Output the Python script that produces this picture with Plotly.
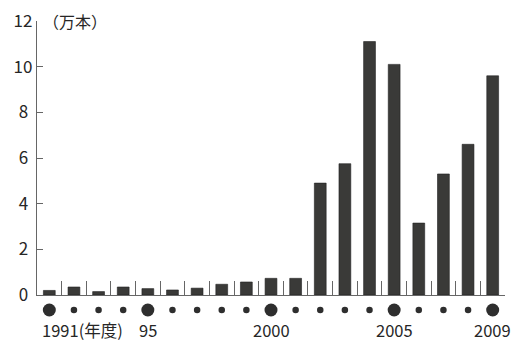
import plotly.graph_objects as go

years = [str(y) for y in range(1991, 2010)]
values = [0.2, 0.35, 0.15, 0.35, 0.28, 0.22, 0.3, 0.47, 0.57, 0.73, 0.73,
          4.9, 5.75, 11.1, 10.1, 3.15, 5.3, 6.6, 9.6]
y_ticks = [0, 2, 4, 6, 8, 10, 12]
y_tick_text = ["0", "2", "4", "6", "8", "10", "12"]
label_years = ["1991", "1995", "2000", "2005", "2009"]
label_texts = ["1991(年度)", "95", "2000", "2005", "2009"]
unit_label = "（万本）"

FONT = "Noto Sans CJK JP"
INK = "#262626"
AXIS = "#666666"

W, H = 519, 343
TOP, LEFT, RIGHT = 21, 37, 14
AXIS_PX = 295      # pixel row of the x-axis line
DOT_PX = 310       # pixel row of the dot markers
plot_h = H - TOP


def frac(px):
    return (H - px) / plot_h


# single-digit labels sit centred under two-digit ones in the original
tick_text_padded = [t if len(t) > 1 else t + "\u2005" for t in y_tick_text]

fig = go.Figure()
fig.add_trace(go.Bar(
    x=years, y=values, width=0.48,
    marker=dict(color="#3a3a38", line=dict(color="#222222", width=0.6)),
    showlegend=False, hoverinfo="x+y", yaxis="y",
))

# marker row below axis: big dots at labelled years
sizes = [13 if y in label_years else 6.5 for y in years]
fig.add_trace(go.Scatter(
    x=years, y=[0] * len(years), mode="markers",
    marker=dict(size=sizes, color="#2e2e2e", opacity=1, line=dict(width=0)),
    cliponaxis=False, showlegend=False, hoverinfo="skip", yaxis="y2",
))

annotations = []
for yr, txt in zip(label_years, label_texts):
    a = dict(x=years.index(yr), y=0, xref="x", yref="paper",
             text=txt, showarrow=False, yanchor="bottom", borderpad=0,
             font=dict(family=FONT, size=16.5, color=INK))
    if yr == "1991":
        a.update(xanchor="left", xshift=-8)
    else:
        a.update(xanchor="center")
    annotations.append(a)
annotations.append(dict(x=0, y=12, xref="paper", yref="y", text=unit_label,
                        showarrow=False, xanchor="left", xshift=4,
                        font=dict(family=FONT, size=16, color=INK)))

fig.update_layout(
    width=W, height=H,
    margin=dict(l=LEFT, r=RIGHT, t=TOP, b=0, autoexpand=False),
    paper_bgcolor="white", plot_bgcolor="white",
    font=dict(family=FONT, size=17, color=INK),
    annotations=annotations,
    xaxis=dict(
        type="category", tickson="boundaries", ticks="inside", ticklen=14,
        tickcolor=AXIS, tickwidth=1, showline=True, linecolor=AXIS, linewidth=1.3,
        showticklabels=False, showgrid=False, zeroline=False, anchor="y",
        range=[-0.5, len(years) - 0.5], automargin=False,
    ),
    yaxis=dict(
        domain=[frac(AXIS_PX), 1],
        range=[0, 12], tickvals=y_ticks, ticktext=tick_text_padded,
        ticks="inside", ticklen=6, tickwidth=1.2,
        tickcolor=AXIS, showline=True, linecolor=AXIS, linewidth=1.3,
        showgrid=False, zeroline=False, ticklabelstandoff=0, automargin=False,
        tickfont=dict(family=FONT, size=17, color=INK),
    ),
    yaxis2=dict(
        domain=[frac(DOT_PX) - 0.03, frac(DOT_PX) + 0.03], range=[-1, 1],
        visible=False, anchor="x", automargin=False,
    ),
)

fig.write_html("out.html", config={"displayModeBar": False},
               post_script="document.body.style.margin='0';")
